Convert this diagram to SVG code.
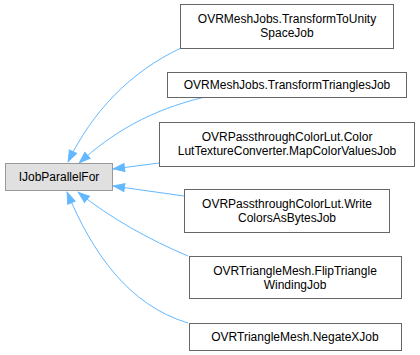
<svg xmlns="http://www.w3.org/2000/svg" width="420" height="355" viewBox="0 0 420 355">
  <style>
    .node rect { fill: #ffffff; stroke: #666666; stroke-width: 1; }
    .node.base rect { fill: #e0e0e0; stroke: #999999; }
    .node text { font-family: "Liberation Sans", Arial, sans-serif; font-size: 12px; fill: #000000; text-anchor: middle; }
    .edges path { fill: none; stroke: #63b8ff; stroke-width: 1; marker-end: url(#arrow); }
  </style>
  <defs>
    <!-- filled inheritance arrowhead, tip placed at the end of each connector -->
    <marker id="arrow" viewBox="0 0 12 9" refX="12" refY="4.5" markerWidth="12" markerHeight="9" markerUnits="userSpaceOnUse" orient="auto" overflow="visible">
      <path d="M0.5,0.5 L11.5,4.5 L0.5,8.5 Z" fill="#63b8ff" stroke="#63b8ff" stroke-width="1"/>
    </marker>
  </defs>
  <rect width="420" height="355" fill="#ffffff"/>

  <g class="edges">
    <path d="M181,48 C130,72 92,112 68,162"/>
    <path d="M205,97 C150,110 112,133 79,163"/>
    <path d="M159,163 L113,169"/>
    <path d="M184,196 L113,186"/>
    <path d="M188,256 C150,240 110,218 78,192"/>
    <path d="M188,323 C128,305 92,252 67,192"/>
  </g>

  <g id="IJobParallelFor" class="node base">
    <rect x="5.5" y="163.5" width="107" height="27"/>
    <text x="59" y="181">IJobParallelFor</text>
  </g>
  <g id="TransformToUnitySpaceJob" class="node">
    <rect x="180.5" y="4.5" width="213" height="44"/>
    <text x="287" y="23">OVRMeshJobs.TransformToUnity</text>
    <text x="287" y="37">SpaceJob</text>
  </g>
  <g id="TransformTrianglesJob" class="node">
    <rect x="167.5" y="72.5" width="239" height="25"/>
    <text x="287" y="89">OVRMeshJobs.TransformTrianglesJob</text>
  </g>
  <g id="MapColorValuesJob" class="node">
    <rect x="159.5" y="122.5" width="255" height="44"/>
    <text x="287" y="141">OVRPassthroughColorLut.Color</text>
    <text x="287" y="155">LutTextureConverter.MapColorValuesJob</text>
  </g>
  <g id="WriteColorsAsBytesJob" class="node">
    <rect x="184.5" y="189.5" width="205" height="43"/>
    <text x="287" y="208">OVRPassthroughColorLut.Write</text>
    <text x="287" y="222">ColorsAsBytesJob</text>
  </g>
  <g id="FlipTriangleWindingJob" class="node">
    <rect x="189.5" y="256.5" width="212" height="42"/>
    <text x="295" y="275">OVRTriangleMesh.FlipTriangle</text>
    <text x="295" y="289">WindingJob</text>
  </g>
  <g id="NegateXJob" class="node">
    <rect x="189.5" y="323.5" width="212" height="27"/>
    <text x="295" y="341">OVRTriangleMesh.NegateXJob</text>
  </g>
</svg>
